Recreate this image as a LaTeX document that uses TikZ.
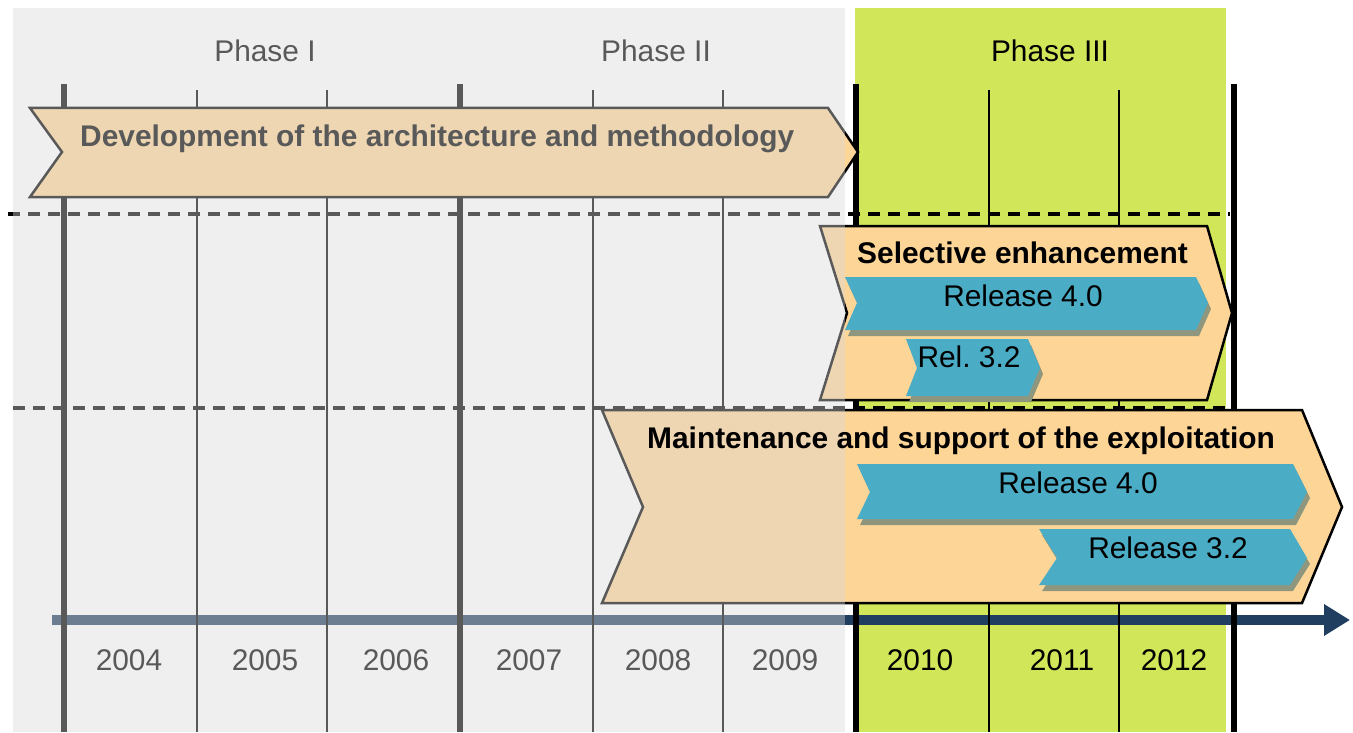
\documentclass[tikz,border=0pt]{standalone}
\usepackage{fontspec}
\setmainfont{Liberation Sans}
\usetikzlibrary{arrows.meta}

\definecolor{bandfill}{HTML}{FDD597}
\definecolor{phasegreen}{HTML}{D2E65A}
\definecolor{relblue}{HTML}{4BACC6}
\definecolor{relshadow}{HTML}{8E977D}
\definecolor{axisblue}{HTML}{203E5F}
\definecolor{veil}{HTML}{D9D9D9}

\begin{document}
\begin{tikzpicture}[
        x=1bp, y=-1bp,
        every node/.style={inner sep=0pt, anchor=base, font=\fontsize{30}{36}\selectfont},
        heading/.style={anchor=base west, font=\fontsize{30}{36}\selectfont\bfseries},
        band/.style={draw=black, fill=bandfill, line width=2.5bp, line join=miter},
        release/.style={fill=relblue},
        relshade/.style={fill=relshadow, shift={(3,6)}},
        bigtick/.style={line width=6bp},
        smalltick/.style={line width=2.5bp},
        divider/.style={line width=4bp, dash pattern=on 12bp off 8bp},
        timeaxis/.style={axisblue, line width=10.5bp, -{Triangle[length=26bp, width=30bp]}}
        ]

        % Canvas and phase III area
        \fill[white] (0,0) rectangle (1353,732);
        \useasboundingbox (0,0) rectangle (1353,732);
        \fill[phasegreen] (855,8) rectangle (1226,732);

        % Time axis
        \coordinate (axisstart) at (52,620);
        \coordinate (axisend) at (1350,620);
        \draw[timeaxis] (axisstart) -- (axisend);

        % Year dividers
        \draw[bigtick] (64,84) -- (64,732);
        \draw[smalltick] (197,90) -- (197,732);
        \draw[smalltick] (327,90) -- (327,732);
        \draw[bigtick] (460,84) -- (460,732);
        \draw[smalltick] (593,90) -- (593,732);
        \draw[smalltick] (723,90) -- (723,732);
        \draw[bigtick] (856,84) -- (856,732);
        \draw[smalltick] (989,90) -- (989,732);
        \draw[smalltick] (1119,90) -- (1119,732);
        \draw[bigtick] (1234,84) -- (1234,732);

        % Row separators
        \draw[divider] (8,214) -- (1230,214);
        \draw[divider] (13,408) -- (1230,408);

        % Bands
        \draw[band] (30,108) -- (828,108) -- (858,152) -- (828,197) -- (30,197) -- (62,152) -- cycle;
        \draw[band] (820,226) -- (1207,226) -- (1232,313) -- (1207,400) -- (820,400) -- (847,313) -- cycle;
        \draw[band] (602,410) -- (1302,410) -- (1342,507) -- (1302,603) -- (602,603) -- (643,507) -- cycle;

        % Releases
        \fill[relshade] (845,277) -- (1196,277) -- (1208,303) -- (1196,330) -- (845,330) -- (857,303) -- cycle;
        \fill[release] (845,277) -- (1196,277) -- (1208,303) -- (1196,330) -- (845,330) -- (857,303) -- cycle;
        \fill[relshade] (906,339) -- (1028,339) -- (1040,368) -- (1028,396) -- (906,396) -- (917,368) -- cycle;
        \fill[release] (906,339) -- (1028,339) -- (1040,368) -- (1028,396) -- (906,396) -- (917,368) -- cycle;
        \fill[relshade] (857,464) -- (1293,464) -- (1307,492) -- (1293,519) -- (857,519) -- (870,492) -- cycle;
        \fill[release] (857,464) -- (1293,464) -- (1307,492) -- (1293,519) -- (857,519) -- (870,492) -- cycle;
        \fill[relshade] (1039,529) -- (1290,529) -- (1307,558) -- (1290,585) -- (1039,585) -- (1057,558) -- cycle;
        \fill[release] (1039,529) -- (1290,529) -- (1307,558) -- (1290,585) -- (1039,585) -- (1057,558) -- cycle;

        % Labels
        \node (phase_one) at (265,62) {Phase I};
        \node (phase_two) at (656,62) {Phase II};
        \node (phase_three) at (1050,62) {Phase III};

        \node[heading] (development) at (80,146) {Development of the architecture and methodology};
        \node[heading] (enhancement) at (857,263) {Selective enhancement};
        \node (enh_rel_40) at (1023,306) {Release 4.0};
        \node (enh_rel_32) at (969,367) {Rel.\ 3.2};
        \node (mnt_rel_40) at (1078,493) {Release 4.0};
        \node (mnt_rel_32) at (1168,558) {Release 3.2};

        \node (y2004) at (129,670) {2004};
        \node (y2005) at (265,670) {2005};
        \node (y2006) at (396,670) {2006};
        \node (y2007) at (529,670) {2007};
        \node (y2008) at (658,670) {2008};
        \node (y2009) at (785,670) {2009};
        \node (y2010) at (920,670) {2010};
        \node (y2011) at (1062,670) {2011};
        \node (y2012) at (1174,670) {2012};

        % Veil over phases I and II
        \fill[veil, opacity=0.41] (13,8) rectangle (845,732);

        \node[heading] (maintenance) at (647,448) {Maintenance and support of the exploitation};

\end{tikzpicture}
\end{document}
